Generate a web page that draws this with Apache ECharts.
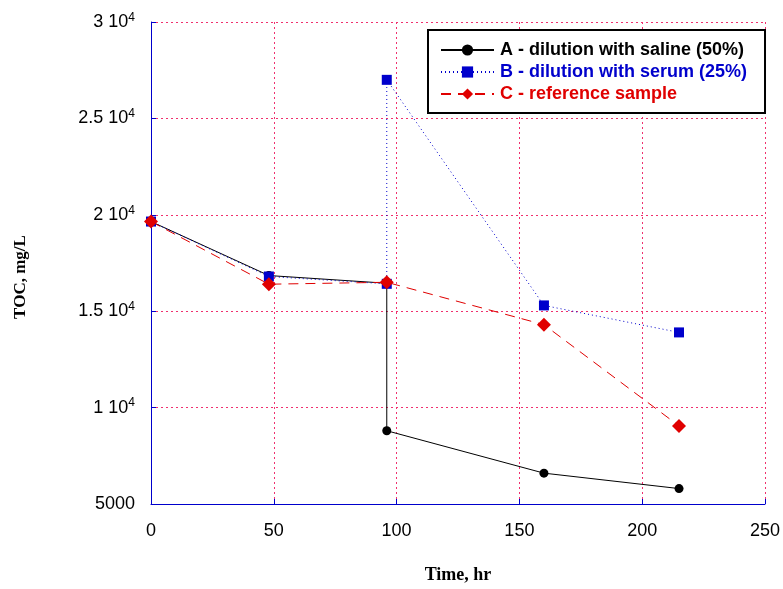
<!DOCTYPE html>
<html><head><meta charset="utf-8">
<script src="https://cdn.jsdelivr.net/npm/echarts@6/dist/echarts.min.js"></script>
<style>html,body{margin:0;padding:0;background:#fff}#c{width:783px;height:589px}</style>
</head><body><div id="c"></div>
<script>
var seriesNames = ['A - dilution with saline (50%)', 'B - dilution with serum (25%)', 'C - reference sample'];
var seriesA = [[0,19650],[48,16850],[96,16450],[96,8800],[160,6600],[215,5800]];
var seriesB = [[0,19650],[48,16800],[96,16420],[96,27000],[160,15300],[215,13900]];
var seriesC = [[0,19650],[48,16400],[96,16500],[160,14300],[215,9050]];
var xTicks = [0,50,100,150,200,250];
var yTickLabels = {5000:'5000',10000:'1 10',15000:'1.5 10',20000:'2 10',25000:'2.5 10',30000:'3 10'};

var chart = echarts.init(document.getElementById('c'));
var blue = '#0000cc', red = '#e00000', grid = '#f0306e';
var sans = 'Liberation Sans, Arial', serif = 'Liberation Serif, Times New Roman';
chart.setOption({
  animation: false,
  backgroundColor: '#fff',
  grid: {left: 151, right: 17, top: 22, bottom: 82},
  legend: {
    left: 428, top: 30, orient: 'vertical',
    padding: [11, 18, 10, 12], itemGap: 4, itemWidth: 53, itemHeight: 14,
    borderColor: '#000', borderWidth: 2, backgroundColor: '#fff',
    data: [
      {name: seriesNames[0], textStyle: {color: '#000'}},
      {name: seriesNames[1], textStyle: {color: blue}},
      {name: seriesNames[2], textStyle: {color: red}}
    ],
    textStyle: {fontFamily: sans, fontWeight: 'bold', fontSize: 18, padding: [0, 0, 0, 1]}
  },
  xAxis: {
    type: 'value', min: xTicks[0], max: xTicks[xTicks.length-1], interval: 50,
    name: 'Time, hr', nameLocation: 'middle', nameGap: 62,
    nameTextStyle: {fontFamily: serif, fontWeight: 'bold', fontSize: 18, color: '#000'},
    axisLine: {lineStyle: {color: blue, width: 1}},
    axisTick: {inside: true, length: 5, lineStyle: {color: blue}},
    axisLabel: {color: '#000', fontSize: 18, fontFamily: sans, margin: 18},
    splitLine: {show: true, lineStyle: {color: grid, type: [2,3], width: 1}}
  },
  yAxis: {
    type: 'value', min: 5000, max: 30000, interval: 5000,
    name: 'TOC, mg/L', nameLocation: 'middle', nameGap: 122, nameRotate: 90,
    nameTextStyle: {fontFamily: serif, fontWeight: 'bold', fontSize: 17, color: '#000', padding: [0, 28, 0, 0]},
    axisLine: {show: true, lineStyle: {color: blue, width: 1}},
    axisTick: {show: true, inside: true, length: 5, lineStyle: {color: blue}},
    axisLabel: {
      color: '#000', fontSize: 18, fontFamily: sans, margin: 16,
      formatter: function (v) {
        if (v === 5000) return '{a|5000}';
        return '{a|' + yTickLabels[v] + '}{s|4}';
      },
      rich: {
        a: {fontSize: 18, fontFamily: sans, color: '#000'},
        s: {fontSize: 12, fontFamily: sans, color: '#000', verticalAlign: 'top', padding: [0,0,9,0]}
      }
    },
    splitLine: {show: true, lineStyle: {color: grid, type: [2,3], width: 1}}
  },
  series: [
    {name: seriesNames[0], type: 'line', data: seriesA, symbol: 'circle', symbolSize: 9,
     lineStyle: {color: '#000', width: 1}, itemStyle: {color: '#000'}},
    {name: seriesNames[1], type: 'line', data: seriesB, symbol: 'rect', symbolSize: 10,
     lineStyle: {color: blue, width: 1, type: [1,3]}, itemStyle: {color: blue}},
    {name: seriesNames[2], type: 'line', data: seriesC, symbol: 'diamond', symbolSize: 14,
     lineStyle: {color: red, width: 1, type: [10,7]}, itemStyle: {color: red}}
  ]
});
</script></body></html>
